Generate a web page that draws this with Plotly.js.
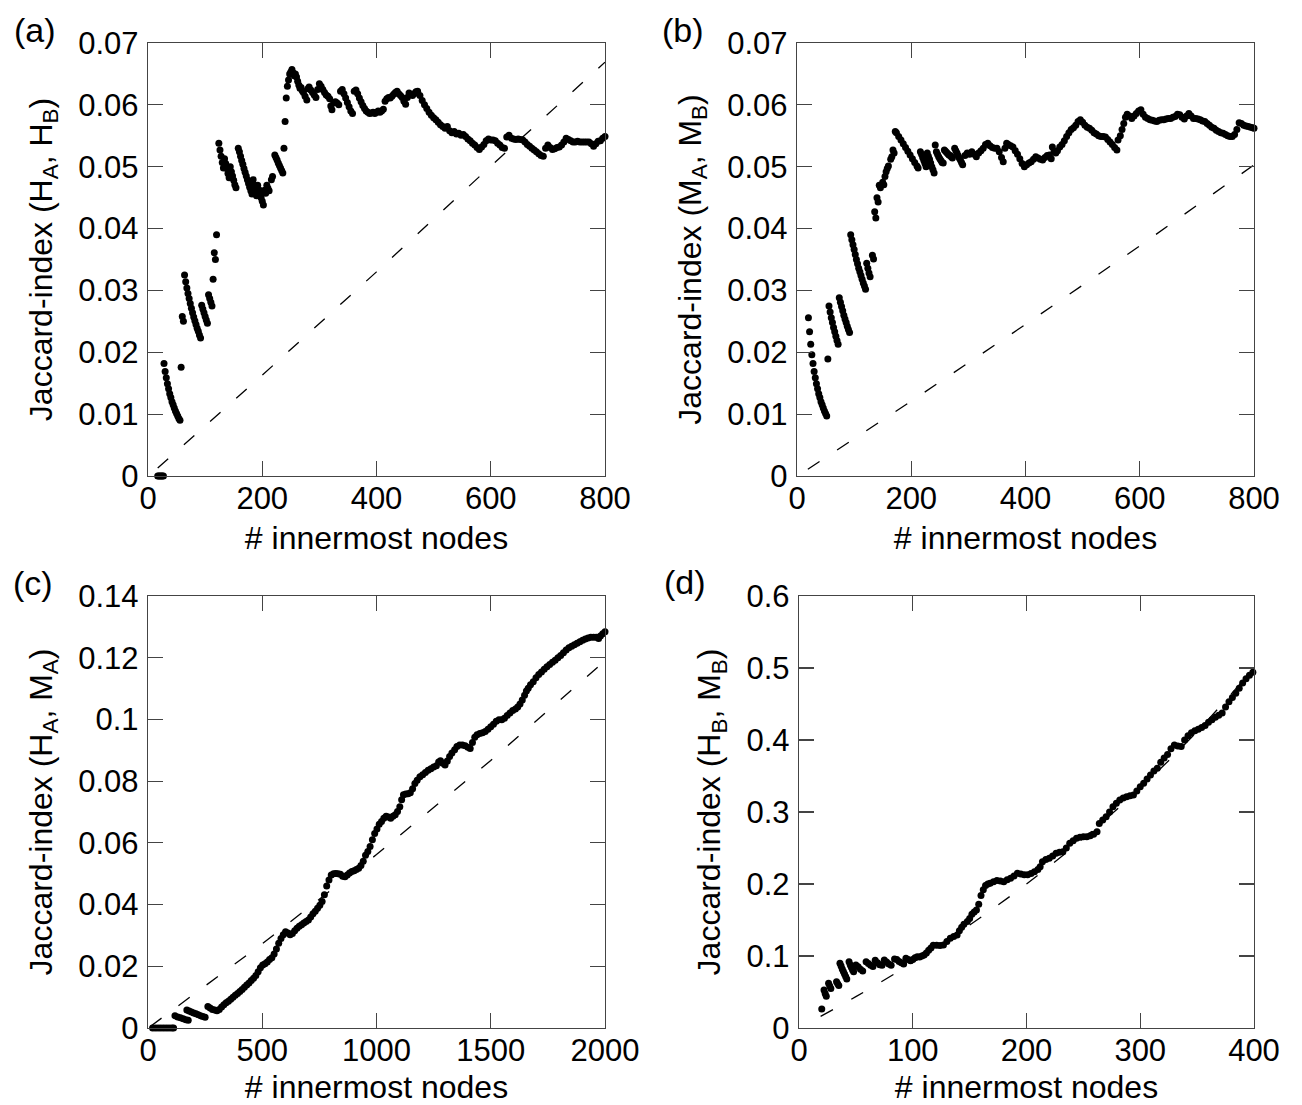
<!DOCTYPE html>
<html>
<head>
<meta charset="utf-8">
<script src="https://cdn.plot.ly/plotly-3.0.1.min.js"></script>
<style>
  html, body { margin: 0; padding: 0; background: #fff; }
  #chart { width: 1302px; height: 1105px; }
</style>
</head>
<body>
<div id="chart"></div>
<script>
// Jaccard index between the innermost-node sets of two rankings,
// as a function of the number of innermost nodes N: [N, J]
const jaccardHAHB = [
  [17,0],[19,0],[21,0],[23,0],[25,0],[27,0],
  [28,.0182],[30,.0169],[32,.0159],[34,.0149],[36,.0141],[38,.0133],[40,.0127],[42,.0120],[44,.0115],[46,.0110],[48,.0105],[50,.0101],[52,.0097],[54,.0093],[56,.0090],
  [58,.0176],[60,.0258],[62,.0250],
  [64,.0325],[66,.0314],[68,.0304],[70,.0295],[72,.0287],[74,.0279],[76,.0271],[78,.0264],[80,.0257],[82,.0251],[84,.0245],[86,.0239],[88,.0234],[90,.0228],[92,.0223],
  [94,.0276],[96,.0270],[98,.0264],[100,.0258],[102,.0252],[104,.0247],
  [106,.0293],[108,.0287],[110,.0281],[112,.0275],
  [114,.0318],[116,.0361],[118,.0350],[120,.0390],
  [124,.0538],[126,.0527],[128,.0517],[130,.0507],[132,.0498],
  [134,.0513],[136,.0505],[138,.0497],[140,.0489],[142,.0482],
  [144,.0500],[146,.0492],[148,.0485],[150,.0478],[152,.0471],[154,.0466],
  [158,.0530],[160,.0524],[162,.0517],[164,.0510],[166,.0504],[168,.0497],[170,.0491],[172,.0485],[174,.0479],[176,.0473],[178,.0467],[180,.0461],[182,.0456],
  [184,.0479],[186,.0470],[188,.0461],[190,.0453],
  [192,.0470],[194,.0463],[196,.0456],[198,.0450],[200,.0444],[202,.0438],
  [204,.0462],[206,.0457],[208,.0470],[210,.0465],[212,.0461],[216,.0479],[218,.0484],
  [222,.0519],[224,.0515],[226,.0511],[228,.0506],[230,.0502],[232,.0498],[234,.0494],[236,.0490],
  [238,.0530],[240,.0573],[242,.0611],[244,.0630],[246,.0640],[248,.0650],[250,.0653],[252,.0657],[254,.0652],[256,.0647],[258,.0650],[260,.0645],[262,.0638],[264,.0632],[266,.0627],
  [268,.0628],[270,.0623],[272,.0620],[275,.0614],[278,.0608],[280,.0626],[282,.0629],[285,.0624],[288,.0620],[291,.0616],[294,.0612],
  [297,.0625],[300,.0634],[303,.0630],[306,.0625],[309,.0620],[312,.0616],[315,.0614],[318,.0610],[320,.0598],[322,.0592],
  [325,.0603],[328,.0605],[331,.0603],[334,.0600],[337,.0622],[340,.0625],[343,.0618],[346,.0611],[349,.0604],[352,.0597],[355,.0590],[358,.0586],
  [361,.0622],[364,.0624],[367,.0618],[370,.0611],[373,.0605],[376,.0599],[379,.0594],[382,.0590],[385,.0588],[388,.0586],[391,.0587],[394,.0588],
  [397,.0586],[400,.0588],[403,.0590],[406,.0588],[409,.0590],[412,.0593],[415,.0606],[418,.0610],[421,.0612],[424,.0611],[427,.0614],[430,.0617],
  [433,.0620],[436,.0622],[439,.0618],[442,.0615],[445,.0612],[448,.0606],[451,.0601],[454,.0612],[457,.0619],[460,.0617],[463,.0615],[466,.0618],[469,.0621],[472,.0622],
  [476,.0615],[480,.0607],[484,.0600],[488,.0594],[492,.0588],[496,.0583],[500,.0579],[504,.0576],[508,.0572],[512,.0568],[516,.0565],[520,.0562],
  [524,.0565],[528,.0558],[532,.0555],[536,.0557],[540,.0553],[544,.0554],[548,.0551],[552,.0552],[556,.0549],[560,.0545],[564,.0542],[568,.0538],
  [572,.0535],[576,.0531],[580,.0528],[584,.0532],[588,.0536],[592,.0542],[596,.0545],[600,.0543],[604,.0543],[608,.0542],[612,.0538],[616,.0535],
  [620,.0531],[624,.0530],[628,.0548],[632,.0551],[636,.0546],[640,.0545],[644,.0544],[648,.0545],[652,.0544],[656,.0543],[660,.0540],[664,.0536],
  [668,.0533],[672,.0530],[676,.0527],[680,.0524],[684,.0521],[688,.0518],[692,.0517],[696,.0530],[700,.0535],[704,.0531],[708,.0528],[712,.0529],
  [716,.0531],[720,.0532],[724,.0535],[728,.0540],[732,.0546],[736,.0544],[740,.0542],[744,.0540],[748,.0540],[752,.0541],[756,.0540],[760,.0540],
  [764,.0540],[768,.0540],[772,.0540],[776,.0537],[780,.0533],[784,.0537],[788,.0541],[792,.0542],[796,.0546],[800,.0549]
];

const jaccardMAMB = [
  [20,.0256],[22,.0233],[24,.0213],[26,.0196],[28,.0182],[30,.0169],[32,.0159],[34,.0149],[36,.0141],[38,.0133],[40,.0127],[42,.0120],[44,.0115],[46,.0110],[48,.0105],[50,.0101],[52,.0097],
  [54,.0189],
  [56,.0275],[58,.0265],[60,.0256],[62,.0248],[64,.0240],[66,.0233],[68,.0226],[70,.0219],[72,.0213],
  [74,.0288],[76,.0281],[78,.0274],[80,.0267],[82,.0260],[84,.0254],[86,.0248],[88,.0242],[90,.0237],[92,.0232],
  [94,.0390],[96,.0382],[98,.0374],[100,.0366],[102,.0358],[104,.0350],[106,.0343],[108,.0336],[110,.0330],[112,.0324],[114,.0318],[116,.0312],[118,.0307],[120,.0302],
  [122,.0344],[124,.0336],[126,.0328],[128,.0322],[132,.0357],[134,.0351],
  [136,.0427],[138,.0417],[140,.0450],[142,.0443],[144,.0470],[146,.0466],[150,.0475],[152,.0471],
  [154,.0484],[156,.0492],[158,.0497],[160,.0501],[164,.0512],[166,.0516],[168,.0527],[170,.0522],
  [172,.0557],[174,.0555],[178,.0549],[182,.0543],[186,.0537],[190,.0531],[194,.0525],[198,.0519],[202,.0513],[206,.0507],[210,.0501],[212,.0498],
  [216,.0524],[218,.0520],[220,.0515],[222,.0510],[224,.0505],[226,.0500],
  [228,.0522],[230,.0517],[232,.0512],[234,.0506],[236,.0500],[238,.0495],[240,.0490],
  [242,.0535],[244,.0524],[246,.0520],[248,.0516],[250,.0513],[252,.0510],[254,.0507],[256,.0506],
  [258,.0527],[260,.0525],[262,.0523],[264,.0521],[266,.0519],[268,.0518],[270,.0516],[272,.0514],
  [276,.0530],[278,.0526],[280,.0522],[282,.0518],[284,.0514],[286,.0511],[288,.0507],[290,.0503],
  [294,.0518],[298,.0522],[302,.0520],[306,.0524],[310,.0520],[314,.0516],[318,.0522],[322,.0526],[326,.0530],[330,.0536],[334,.0538],[338,.0534],
  [342,.0531],[346,.0530],[350,.0530],[354,.0524],[358,.0515],[361,.0508],[364,.0530],[367,.0538],[370,.0536],[374,.0534],[378,.0532],[382,.0526],
  [386,.0520],[390,.0513],[394,.0505],[398,.0500],[402,.0503],[406,.0506],[410,.0508],[414,.0512],[418,.0516],[422,.0514],[426,.0512],[430,.0511],
  [434,.0515],[438,.0518],[442,.0519],[445,.0513],[447,.0532],[450,.0525],[453,.0522],[456,.0526],[460,.0532],[464,.0536],[468,.0542],[472,.0549],
  [476,.0555],[480,.0560],[484,.0563],[488,.0567],[492,.0573],[496,.0576],[500,.0572],[504,.0567],[508,.0564],[512,.0562],[516,.0559],[520,.0555],
  [524,.0553],[528,.0550],[532,.0549],[536,.0549],[540,.0548],[544,.0544],[548,.0540],[552,.0536],[556,.0531],[560,.0527],[562,.0543],[566,.0550],
  [569,.0560],[572,.0570],[575,.0580],[578,.0585],[582,.0582],[586,.0578],[590,.0582],[594,.0586],[598,.0590],[602,.0592],[606,.0585],[610,.0580],
  [614,.0578],[618,.0576],[622,.0575],[626,.0574],[630,.0573],[634,.0575],[638,.0576],[642,.0576],[646,.0577],[650,.0578],[654,.0578],[658,.0580],
  [662,.0581],[666,.0585],[670,.0584],[674,.0580],[678,.0577],[682,.0582],[686,.0586],[690,.0582],[694,.0578],[698,.0578],[702,.0577],[706,.0576],
  [710,.0574],[714,.0573],[718,.0570],[722,.0567],[726,.0564],[730,.0562],[734,.0559],[738,.0557],[742,.0555],[746,.0554],[750,.0552],[754,.0550],
  [758,.0549],[762,.0549],[766,.0552],[770,.0560],[774,.0571],[778,.0570],[782,.0567],[786,.0566],[790,.0565],[794,.0564],[798,.0563],[800,.0562]
];

const jaccardHAMA = [
  [20,0],[32,0],[44,0],[56,0],[68,0],[80,0],[92,0],[104,0],[112,0],
  [118,.0040],[130,.0036],[142,.0033],[154,.0030],[166,.0027],[176,.0025],
  [170,.0058],[180,.0055],[190,.0052],[200,.0049],[210,.0046],[220,.0043],[230,.0040],[240,.0037],[250,.0035],
  [262,.0070],[272,.0065],[282,.0060],[292,.0058],[302,.0056],[312,.0060],[322,.0068],[332,.0075],[342,.0082],[352,.0087],[362,.0093],[372,.0100],
  [382,.0106],[392,.0112],[402,.0118],[412,.0125],[422,.0132],[432,.0139],[442,.0146],[452,.0154],[462,.0161],[472,.0170],[482,.0182],[492,.0195],
  [502,.0204],[512,.0208],[522,.0214],[532,.0222],[542,.0228],[552,.0240],[562,.0256],[572,.0275],[582,.0290],[592,.0302],[602,.0312],[612,.0308],
  [622,.0302],[632,.0306],[642,.0315],[652,.0323],[662,.0330],[672,.0335],[682,.0340],[692,.0345],[702,.0350],[712,.0360],[722,.0370],[732,.0378],
  [742,.0388],[752,.0398],[762,.0410],[772,.0432],[782,.0460],[792,.0480],[802,.0496],[812,.0500],[822,.0501],[832,.0500],[842,.0498],[852,.0492],
  [862,.0490],[872,.0496],[882,.0502],[892,.0507],[902,.0510],[912,.0514],[922,.0518],[932,.0527],[942,.0540],[952,.0560],[962,.0572],[972,.0588],
  [982,.0610],[992,.0630],[1002,.0645],[1012,.0660],[1022,.0669],[1032,.0680],[1042,.0686],[1052,.0684],[1062,.0680],[1072,.0686],[1082,.0691],[1092,.0702],
  [1102,.0717],[1110,.0740],[1118,.0756],[1128,.0758],[1138,.0759],[1148,.0762],[1158,.0775],[1168,.0792],[1178,.0803],[1190,.0814],[1202,.0821],[1214,.0828],
  [1226,.0835],[1238,.0840],[1250,.0846],[1262,.0850],[1272,.0862],[1280,.0866],[1290,.0858],[1300,.0852],[1310,.0865],[1320,.0880],[1330,.0891],[1342,.0902],
  [1352,.0912],[1364,.0917],[1376,.0917],[1388,.0915],[1400,.0910],[1410,.0906],[1420,.0925],[1430,.0942],[1440,.0950],[1452,.0954],[1464,.0957],[1476,.0961],
  [1488,.0968],[1500,.0976],[1512,.0984],[1524,.0994],[1536,.0999],[1548,.0999],[1560,.1004],[1572,.1013],[1584,.1021],[1596,.1029],[1608,.1034],[1618,.1040],
  [1628,.1050],[1638,.1063],[1648,.1078],[1656,.1092],[1664,.1101],[1674,.1112],[1686,.1122],[1698,.1135],[1710,.1146],[1722,.1154],[1734,.1163],[1746,.1171],
  [1758,.1178],[1770,.1185],[1782,.1192],[1794,.1200],[1806,.1207],[1818,.1216],[1830,.1225],[1842,.1232],[1854,.1237],[1866,.1242],[1878,.1247],[1890,.1252],
  [1902,.1257],[1914,.1261],[1926,.1264],[1938,.1266],[1950,.1266],[1962,.1266],[1972,.1262],[1980,.1270],[1990,.1278],[2000,.1284]
];

const jaccardHBMB = [
  [20,.0264],
  [22,.0528],[23,.0480],[24,.0440],
  [26,.0620],[27,.0585],[28,.0550],
  [33,.0644],[34,.0615],[35,.0590],
  [36,.0898],[37,.0860],[38,.0820],[39,.0785],[40,.0750],[41,.0715],[42,.0680],
  [44,.0920],[45,.0880],[46,.0845],[47,.0810],[48,.0780],
  [50,.0875],[52,.0850],[54,.0815],[56,.0790],
  [59,.0921],[61,.0895],[63,.0870],[65,.0855],
  [67,.0940],[69,.0905],[71,.0880],[73,.0870],
  [75,.0944],[77,.0915],[79,.0890],[81,.0870],
  [84,.0960],[86,.0950],[88,.0925],[90,.0905],[92,.0890],
  [94,.0968],[96,.0950],[98,.0935],[100,.0950],[102,.0975],[104,.0990],[106,.0985],[108,.1000],[110,.1014],[112,.1040],[114,.1080],[116,.1110],
  [118,.1150],[121,.1150],[124,.1145],[127,.1153],[130,.1200],[133,.1245],[136,.1270],[139,.1290],[141,.1350],[143,.1400],[145,.1440],[148,.1480],
  [150,.1520],[152,.1580],[154,.1610],[156,.1640],[158,.1720],[160,.1840],[162,.1920],[164,.1980],[166,.2000],[168,.2010],[171,.2030],[174,.2050],
  [177,.2040],[180,.2030],[183,.2060],[186,.2080],[189,.2110],[192,.2150],[195,.2140],[198,.2130],[201,.2130],[204,.2145],[207,.2170],[210,.2200],
  [212,.2240],[214,.2310],[217,.2340],[220,.2356],[223,.2390],[226,.2426],[229,.2440],[232,.2449],[235,.2500],[238,.2565],[241,.2600],[244,.2634],
  [247,.2650],[250,.2657],[253,.2657],[256,.2670],[259,.2690],[262,.2727],[264,.2840],[267,.2890],[270,.2935],[273,.3000],[276,.3074],[279,.3120],
  [282,.3167],[285,.3195],[288,.3213],[291,.3225],[294,.3236],[297,.3290],[300,.3352],[303,.3400],[306,.3460],[309,.3514],[312,.3570],[315,.3606],
  [318,.3690],[321,.3750],[324,.3800],[327,.3880],[330,.3930],[333,.3915],[336,.3910],[339,.4000],[342,.4060],[345,.4100],[348,.4130],[351,.4150],
  [354,.4175],[357,.4200],[360,.4245],[363,.4280],[366,.4315],[369,.4345],[372,.4375],[375,.4460],[378,.4530],[381,.4590],[384,.4650],[387,.4720],
  [390,.4790],[393,.4850],[396,.4900],[399,.4940],[401,.4958]
];

// Expected Jaccard index of two random selections of the same size
const randomHAHB = [[17,.0013],[200,.0163],[400,.0330],[600,.0501],[800,.0669]];
const randomMAMB = [[19,.0011],[200,.0121],[400,.0245],[600,.0372],[800,.0503]];
const randomHAMA = [[10,.0005],[500,.0273],[1000,.0562],[1500,.0867],[2000,.1190]];
const randomHBMB = [[19,.0161],[50,.0435],[100,.0909],[150,.1429],[200,.2000],[250,.2632],[300,.3333],[350,.4118],[400,.5000]];

const panelLabels = ['(a)', '(b)', '(c)', '(d)'];
const xTitle = '# innermost nodes';
const yTitles = [
  'Jaccard-index (H<sub>A</sub>, H<sub>B</sub>)',
  'Jaccard-index (M<sub>A</sub>, M<sub>B</sub>)',
  'Jaccard-index (H<sub>A</sub>, M<sub>A</sub>)',
  'Jaccard-index (H<sub>B</sub>, M<sub>B</sub>)'
];

const family = 'Liberation Sans, Arial, sans-serif';
const tickFont = { family, size: 31, color: '#000' };
const titleFont = { family, size: 32, color: '#000' };
const labelFont = { family, size: 34, color: '#000' };
const frameColor = '#444';

function pointsTrace(pts, ax) {
  return {
    type: 'scatter', mode: 'markers',
    x: pts.map(p => p[0]), y: pts.map(p => p[1]),
    xaxis: 'x' + ax, yaxis: 'y' + ax,
    marker: { color: '#000', size: 7, line: { width: 0 } },
    cliponaxis: false, showlegend: false, hoverinfo: 'x+y'
  };
}
function refTrace(pts, ax, smooth) {
  return {
    type: 'scatter', mode: 'lines',
    x: pts.map(p => p[0]), y: pts.map(p => p[1]),
    xaxis: 'x' + ax, yaxis: 'y' + ax,
    line: { color: '#000', width: 1.3, dash: '14px,21px', shape: smooth ? 'spline' : 'linear' },
    showlegend: false, hoverinfo: 'skip'
  };
}

function axisBase() {
  return {
    ticks: 'inside', ticklen: 15, tickwidth: 1.2, tickcolor: frameColor,
    showline: true, linecolor: frameColor, linewidth: 1.3, mirror: 'ticks',
    showgrid: false, zeroline: false, tickfont: tickFont, automargin: false,
    tick0: 0
  };
}
function xAx(domain, range, dtick, anchor) {
  return Object.assign(axisBase(), {
    domain, range, dtick, anchor, ticklabelstandoff: -6,
    title: { text: xTitle, font: titleFont, standoff: 12 }
  });
}
function yAx(domain, range, dtick, anchor, title) {
  return Object.assign(axisBase(), {
    domain, range, dtick, anchor, ticklabelstandoff: 2,
    title: { text: title, font: titleFont, standoff: 16 }
  });
}

const W = 1302, H = 1105;
const colL = [148 / W, 605 / W], colR = [797 / W, 1254 / W], colR2 = [799 / W, 1254 / W];
const rowT = [(H - 476) / H, (H - 43) / H], rowB = [(H - 1028) / H, (H - 596) / H];

const data = [
  refTrace(randomHAHB, ''), pointsTrace(jaccardHAHB, ''),
  refTrace(randomMAMB, '2'), pointsTrace(jaccardMAMB, '2'),
  refTrace(randomHAMA, '3'), pointsTrace(jaccardHAMA, '3'),
  refTrace(randomHBMB, '4', true), pointsTrace(jaccardHBMB, '4')
];

const labelPos = [[35, 30], [683, 30], [33, 583], [685, 582]];

const layout = {
  width: W, height: H,
  margin: { l: 0, r: 0, t: 0, b: 0 },
  paper_bgcolor: '#fff', plot_bgcolor: '#fff',
  font: tickFont,
  xaxis:  xAx(colL,  [0, 800],  200, 'y'),
  yaxis:  yAx(rowT,  [0, 0.07], 0.01, 'x', yTitles[0]),
  xaxis2: xAx(colR,  [0, 800],  200, 'y2'),
  yaxis2: yAx(rowT,  [0, 0.07], 0.01, 'x2', yTitles[1]),
  xaxis3: xAx(colL,  [0, 2000], 500, 'y3'),
  yaxis3: yAx(rowB,  [0, 0.14], 0.02, 'x3', yTitles[2]),
  xaxis4: xAx(colR2, [0, 400],  100, 'y4'),
  yaxis4: yAx(rowB,  [0, 0.6],  0.1, 'x4', yTitles[3]),
  annotations: panelLabels.map((t, i) => ({
    text: t, xref: 'paper', yref: 'paper',
    x: labelPos[i][0] / W, y: 1 - labelPos[i][1] / H,
    xanchor: 'center', yanchor: 'middle', showarrow: false, font: labelFont
  }))
};

Plotly.newPlot('chart', data, layout, { displayModeBar: false, staticPlot: true });
</script>
</body>
</html>
